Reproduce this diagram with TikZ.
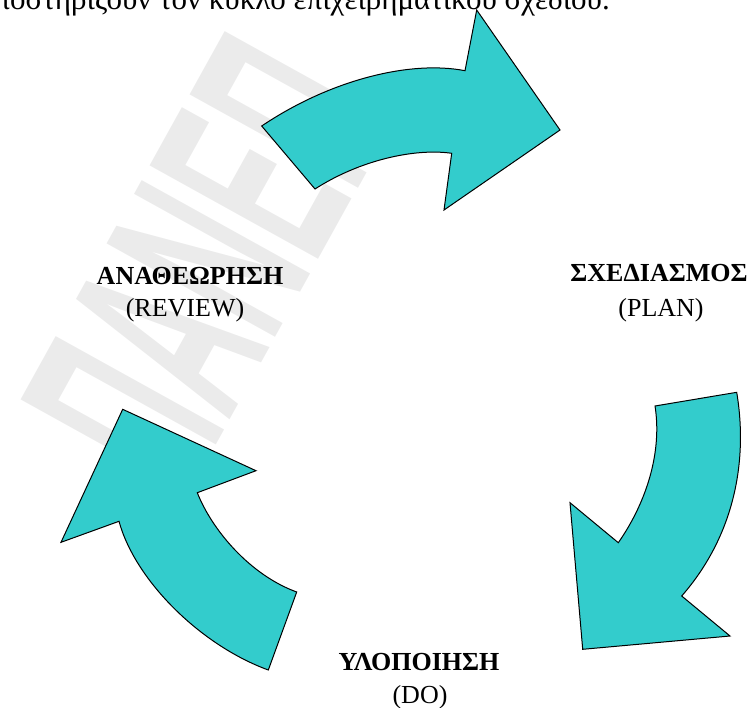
\documentclass[tikz,border=0pt]{standalone}
\usepackage{fontspec}
\setmainfont{Liberation Serif}
\newfontfamily\wmfont{Liberation Sans}
\definecolor{arrowfill}{HTML}{33CCCC}
\tikzset{
  bigarrow/.style={fill=arrowfill, draw=black, line width=1pt, line join=miter},
  lblbold/.style={anchor=base, inner sep=0pt, font=\fontsize{26}{30}\selectfont\bfseries},
  lblsub/.style={anchor=base, inner sep=0pt, font=\fontsize{26}{30}\selectfont},
  watermark/.style={inner sep=0pt, text=black!8, font=\wmfont\bfseries\fontsize{280}{280}\selectfont}
}
\begin{document}
\begin{tikzpicture}[x=1pt,y=-1pt]
\useasboundingbox (0,0) rectangle (749,707);
% faint watermark
\node[watermark, rotate=61, xscale=0.44] (wm) at (207,262) {ΠΑΝΕΠ};
% top (cut) sentence
\node[anchor=base east, inner sep=0pt, font=\fontsize{31}{36}\selectfont] (top) at (610,9)
  {υποστηρίζουν τον κύκλο επιχειρηματικού σχεδίου.};
% top arrow
\draw[bigarrow] (261.7,126) .. controls (330,80) and (410,60) .. (465,70.7)
  -- (476.7,10) -- (560,130) -- (444,210) -- (451.7,153.3)
  .. controls (415,148) and (360,160) .. (315,189) -- cycle;
% right arrow
\draw[bigarrow] (736.7,392.3) .. controls (748,460) and (735,535) .. (681.7,596)
  -- (730,636) -- (582.7,649.3) -- (570,502.7) -- (618.3,542.7)
  .. controls (648,500) and (662,450) .. (655,406) -- cycle;
% left arrow
\draw[bigarrow] (122.7,409.3) -- (256,470.7) -- (197.3,492.7)
  .. controls (212,530) and (250,575) .. (296.7,592)
  -- (268.3,670) .. controls (200,645) and (135,580) .. (119,521.3)
  -- (61,542.3) -- cycle;
% labels
\node[lblbold] (review) at (190,284) {ΑΝΑΘΕΩΡΗΣΗ};
\node[lblsub]  (reviewen) at (185,316) {(REVIEW)};
\node[lblbold] (plan) at (659,281) {ΣΧΕΔΙΑΣΜΟΣ};
\node[lblsub]  (planen) at (661,316) {(PLAN)};
\node[lblbold] (do) at (419,670) {ΥΛΟΠΟΙΗΣΗ};
\node[lblsub]  (doen) at (420,703) {(DO)};
\end{tikzpicture}
\end{document}
